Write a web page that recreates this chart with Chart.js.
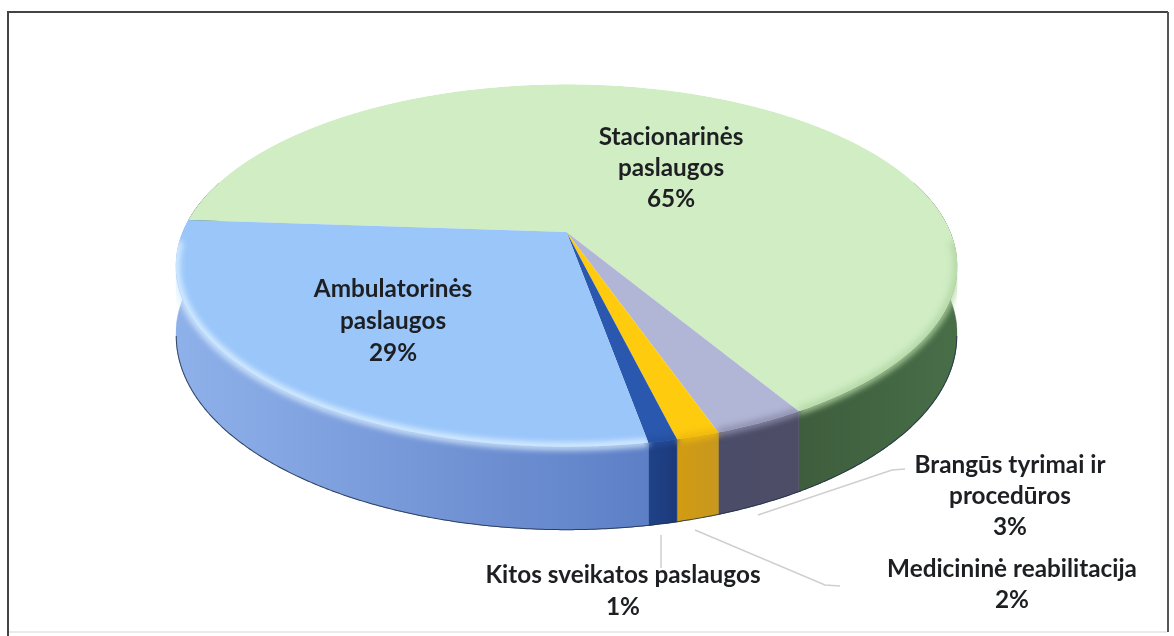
<!DOCTYPE html>
<html lang="lt">
<head>
<meta charset="utf-8">
<title>Paslaugos</title>
<script src="https://cdn.jsdelivr.net/npm/chart.js@4"></script>
<style>
html,body{margin:0;padding:0;background:#fff}
#wrap{position:relative;width:1174px;height:636px}
</style>
</head>
<body>
<div id="wrap"><canvas id="c" width="1174" height="636"></canvas></div>
<script>
// data, in drawing order (clockwise)
const categories = ["Stacionarinės paslaugos", "Brangūs tyrimai ir procedūros", "Medicininė reabilitacija", "Kitos sveikatos paslaugos", "Ambulatorinės paslaugos"];
const values = [65.4, 3.2, 1.5, 1.0, 28.9];
const topColors = ["#d0edc4", "#b2b6d6", "#ffcb0f", "#2a58ae", "#9ac6fa"];
const rimColors = ["#b4d8a6", "#8f90ae", "#eeb810", "#254f9e", "#d9eeff"];
const wallLeft  = ["#3e5d3c", "#4b4c68", "#d29c12", "#1f4288", "#8fb1ea"];
const wallRight = ["#486e48", "#4d4d66", "#c8981e", "#1c3a7a", "#5d7fc6"];
const labelLines = [["Stacionarinės","paslaugos"],["Brangūs tyrimai ir","procedūros"],["Medicininė reabilitacija"],["Kitos sveikatos paslaugos"],["Ambulatorinės","paslaugos"]];

// layout of the tilted disc and labels
const CX = 566.5, CY = 232, A = 384, B = 175, K = 0.185, DEPTH = 68;
const EDGE = Math.asin(K);
const labelAnchor = [[671,137,31],[1010,465,31],[1012,569,31],[623,575,32],[393,289,32]];
const leaders = [null,[[758,515],[892,470],[905,469]],[[695,530],[825,585],[840,586]],[[661,535],[661,568]],null];

function proj(theta, drop){
  const u = Math.cos(theta), v = -Math.sin(theta), w = 1 + K*v;
  return [CX + A*u/w, CY - B*v/w + (drop ? DEPTH/w : 0)];
}
function rimPts(a0, a1, drop){
  const n = Math.max(2, Math.ceil(Math.abs(a1-a0)/0.008)), pts = [];
  for(let i=0;i<=n;i++) pts.push(proj(a0+(a1-a0)*i/n, drop));
  return pts;
}
function trace(ctx, pts, move){
  pts.forEach((p,i)=> (i===0 && move) ? ctx.moveTo(p[0],p[1]) : ctx.lineTo(p[0],p[1]));
}
function frontRanges(arc, lo, hi){
  const out = [];
  for(const off of [0,2*Math.PI,-2*Math.PI]){
    const s = Math.max(arc.startAngle+off,lo), e = Math.min(arc.endAngle+off,hi);
    if(e>s) out.push([s,e]);
  }
  return out;
}
const disc3d = {
  id:'disc3d',
  beforeDraw(chart){
    const c = chart.ctx;
    c.save();
    c.fillStyle='#ffffff'; c.fillRect(0,0,1174,636);
    c.strokeStyle='#444'; c.lineWidth=2;
    c.beginPath(); c.moveTo(8,636); c.lineTo(8,12); c.lineTo(1168,12); c.stroke();
    c.strokeStyle='#555'; c.beginPath(); c.moveTo(1168,12); c.lineTo(1168,632); c.stroke();
    c.strokeStyle='#e4e4e4'; c.lineWidth=1.5; c.beginPath(); c.moveTo(9,632); c.lineTo(1167,632); c.stroke();
    c.restore();
  },
  beforeDatasetsDraw(chart){
    const c = chart.ctx, arcs = chart.getDatasetMeta(0).data;
    c.save();
    // whole silhouette: back half of the top rim, front half of the lower rim
    c.beginPath();
    trace(c,rimPts(Math.PI-EDGE,2*Math.PI+EDGE,false),true);
    trace(c,rimPts(EDGE,Math.PI-EDGE,true),false);
    c.closePath();
    c.clip();
    // side wall
    arcs.forEach((arc,i)=>{
      frontRanges(arc,-0.3,Math.PI+0.3).forEach(([s,e])=>{
        const top = rimPts(s,e,false), bot = rimPts(e,s,true);
        const xs = top.map(p=>p[0]);
        const x0 = Math.min(...xs), x1 = Math.max(...xs);
        const g = c.createLinearGradient(x0,0,x1+0.01,0);
        g.addColorStop(0,wallLeft[i]); g.addColorStop(1,wallRight[i]);
        c.fillStyle = g; c.strokeStyle = g; c.lineWidth = 0.6;
        c.beginPath(); trace(c,top,true); trace(c,bot,false); c.closePath(); c.fill(); c.stroke();
      });
    });
    // soft edge over the wall
    arcs.forEach((arc,i)=>{
      c.save();
      c.filter='blur(3px)';
      c.strokeStyle=rimColors[i]; c.lineWidth=6;
      frontRanges(arc,0.05,Math.PI-0.05).forEach(([s,e])=>{
        c.beginPath(); trace(c,rimPts(s,e,false),true); c.stroke();
      });
      c.restore();
    });
    // top face
    arcs.forEach((arc,i)=>{
      const pts = [[CX,CY]].concat(rimPts(arc.startAngle,arc.endAngle,false));
      c.save();
      c.beginPath(); trace(c,pts,true); c.closePath(); c.clip();
      c.fillStyle=topColors[i]; c.fillRect(0,0,1174,636);
      c.filter='blur(3px)';
      c.strokeStyle=rimColors[i]; c.lineWidth=8;
      frontRanges(arc,0.05,Math.PI-0.05).forEach(([s,e])=>{
        c.beginPath(); trace(c,rimPts(s,e,false),true); c.stroke();
      });
      c.restore();
    });
    // dark lower outline
    c.strokeStyle='rgba(35,50,75,0.85)'; c.lineWidth=2;
    c.beginPath(); trace(c,rimPts(EDGE,Math.PI-EDGE,true),true); c.stroke();
    c.restore();
    // leaders and labels
    c.save();
    c.strokeStyle='#cfcfcf'; c.lineWidth=1.5;
    leaders.forEach(l=>{ if(!l) return; c.beginPath(); trace(c,l,true); c.stroke(); });
    const total = values.reduce((a,b)=>a+b,0);
    c.fillStyle='#1d1f22'; c.font='bold 24.3px Lato'; c.textAlign='center'; c.textBaseline='middle';
    categories.forEach((cat,i)=>{
      const [x,y,lh] = labelAnchor[i];
      const lines = labelLines[i].concat([Math.round(values[i]/total*100)+'%']);
      lines.forEach((t,j)=>c.fillText(t,x,y+j*lh));
    });
    c.restore();
    return false;
  }
};
new Chart(document.getElementById('c'),{
  type:'pie',
  data:{labels:categories,datasets:[{data:values,backgroundColor:topColors,borderWidth:0}]},
  options:{responsive:false,animation:false,rotation:-86,
    plugins:{legend:{display:false},tooltip:{enabled:false}}},
  plugins:[disc3d]
});
</script>
</body>
</html>
